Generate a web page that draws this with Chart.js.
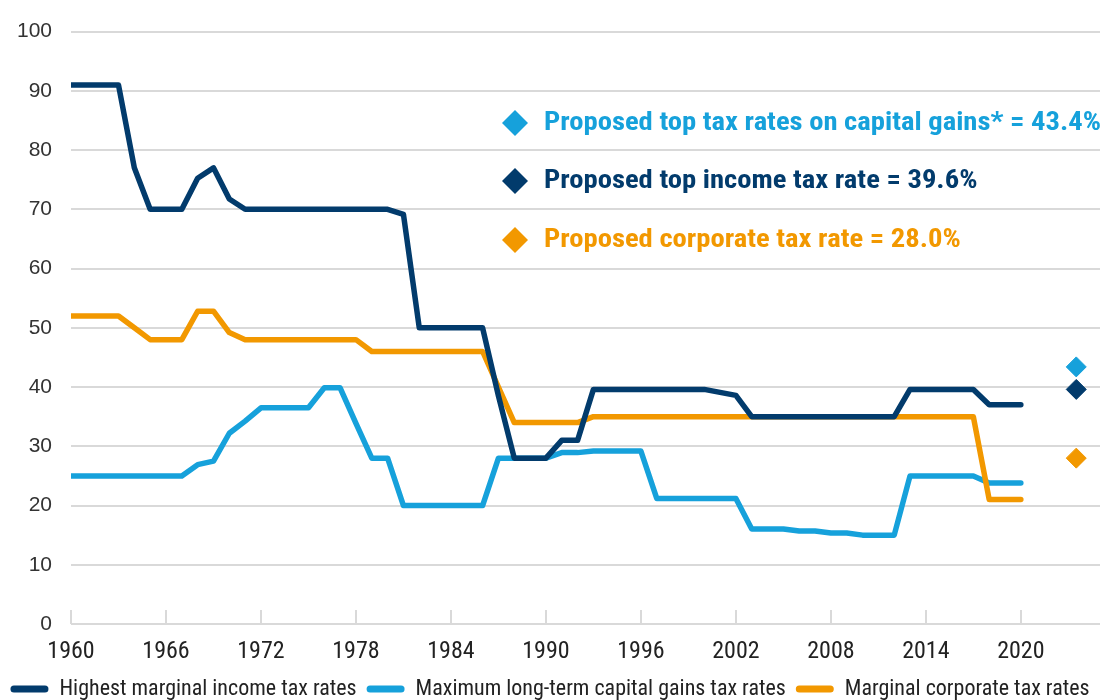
<!DOCTYPE html>
<html>
<head>
<meta charset="utf-8">
<script src="https://cdn.jsdelivr.net/npm/chart.js@4.4.1/dist/chart.umd.min.js"></script>
<style>
  html, body { margin: 0; padding: 0; background: #fff; }
</style>
</head>
<body>
<canvas id="grafico-Impuestos" width="1104" height="700"></canvas>
<script>
// Años y tasas (%)
const years = [1960, 1961, 1962, 1963, 1964, 1965, 1966, 1967, 1968, 1969,
  1970, 1971, 1972, 1973, 1974, 1975, 1976, 1977, 1978, 1979,
  1980, 1981, 1982, 1983, 1984, 1985, 1986, 1987, 1988, 1989,
  1990, 1991, 1992, 1993, 1994, 1995, 1996, 1997, 1998, 1999,
  2000, 2001, 2002, 2003, 2004, 2005, 2006, 2007, 2008, 2009,
  2010, 2011, 2012, 2013, 2014, 2015, 2016, 2017, 2018, 2019, 2020];

const incomeRates = [91, 91, 91, 91, 77, 70, 70, 70, 75.25, 77,
  71.75, 70, 70, 70, 70, 70, 70, 70, 70, 70,
  70, 69.13, 50, 50, 50, 50, 50, 38.5, 28, 28,
  28, 31, 31, 39.6, 39.6, 39.6, 39.6, 39.6, 39.6, 39.6,
  39.6, 39.1, 38.6, 35, 35, 35, 35, 35, 35, 35,
  35, 35, 35, 39.6, 39.6, 39.6, 39.6, 39.6, 37, 37, 37];

const capitalGainsRates = [25, 25, 25, 25, 25, 25, 25, 25, 26.9, 27.5,
  32.2, 34.25, 36.5, 36.5, 36.5, 36.5, 39.875, 39.875, 33.85, 28,
  28, 20, 20, 20, 20, 20, 20, 28, 28, 28,
  28, 28.93, 28.93, 29.19, 29.19, 29.19, 29.19, 21.19, 21.19, 21.19,
  21.19, 21.19, 21.19, 16.05, 16.05, 16.05, 15.7, 15.7, 15.35, 15.35,
  15, 15, 15, 25, 25, 25, 25, 25, 23.8, 23.8, 23.8];

const corporateRates = [52, 52, 52, 52, 50, 48, 48, 48, 52.8, 52.8,
  49.2, 48, 48, 48, 48, 48, 48, 48, 48, 46,
  46, 46, 46, 46, 46, 46, 46, 40, 34, 34,
  34, 34, 34, 35, 35, 35, 35, 35, 35, 35,
  35, 35, 35, 35, 35, 35, 35, 35, 35, 35,
  35, 35, 35, 35, 35, 35, 35, 35, 21, 21, 21];

// Propuestas
const proposedYear = 2023.5;
const proposedCapitalGains = 43.4;
const proposedIncome = 39.6;
const proposedCorporate = 28.0;

const xTicks = [1960, 1966, 1972, 1978, 1984, 1990, 1996, 2002, 2008, 2014, 2020];

const seriesNames = ["Highest marginal income tax rates", "Maximum long-term capital gains tax rates", "Marginal corporate tax rates"];
const notes = [
  "Proposed top tax rates on capital gains* = 43.4%",
  "Proposed top income tax rate = 39.6%",
  "Proposed corporate tax rate = 28.0%"
];

const NAVY = "#023b6c";
const BLUE = "#16a1db";
const ORANGE = "#f29800";
const NARROW = '"Roboto Condensed", "DejaVu Sans Condensed", sans-serif';

function toPoints(values) {
  return values.map((v, i) => ({ x: years[i], y: v }));
}

function serie(label, values, color, order) {
  return {
    label: label,
    data: toPoints(values),
    borderColor: color,
    backgroundColor: color,
    borderWidth: 5.5,
    borderCapStyle: "round",
    borderJoinStyle: "round",
    pointRadius: 0,
    tension: 0,
    order: order
  };
}

function diamond(value, color) {
  return {
    label: "",
    data: [{ x: proposedYear, y: value }],
    borderColor: color,
    backgroundColor: color,
    pointStyle: "rectRot",
    pointRadius: 10,
    pointHoverRadius: 10,
    showLine: false,
    order: 0
  };
}

// Marcas del eje x y notas de texto
const extras = {
  id: "extras",
  beforeDatasetsDraw(chart) {
    const { ctx, chartArea, scales: { x } } = chart;
    ctx.save();
    ctx.strokeStyle = "#d9d9d9";
    ctx.lineWidth = 2;
    x.ticks.forEach(t => {
      const px = Math.round(x.getPixelForValue(t.value));
      ctx.beginPath();
      ctx.moveTo(px, chartArea.bottom);
      ctx.lineTo(px, chartArea.bottom - 14);
      ctx.stroke();
    });
    ctx.restore();
  },
  afterDraw(chart) {
    const { ctx, chartArea } = chart;
    const colors = [BLUE, NAVY, ORANGE];
    const rows = [123, 181, 240];
    ctx.save();
    ctx.font = "bold 25px " + NARROW;
    ctx.textBaseline = "middle";
    // la fuente original es algo más ancha: estirar en horizontal
    const sx = 557 / ctx.measureText(notes[0]).width;
    notes.forEach((txt, i) => {
      const cx = chartArea.left + 444;
      const cy = rows[i];
      ctx.fillStyle = colors[i];
      ctx.beginPath();
      ctx.moveTo(cx, cy - 13);
      ctx.lineTo(cx + 13, cy);
      ctx.lineTo(cx, cy + 13);
      ctx.lineTo(cx - 13, cy);
      ctx.closePath();
      ctx.fill();
      ctx.save();
      ctx.translate(cx + 29, cy + 1);
      ctx.scale(sx, 1);
      ctx.fillText(txt, 0, 0);
      ctx.restore();
    });
    ctx.restore();
  }
};

new Chart(document.getElementById("grafico-Impuestos").getContext("2d"), {
  type: "line",
  data: {
    datasets: [
      serie(seriesNames[0], incomeRates, NAVY, 1),
      serie(seriesNames[1], capitalGainsRates, BLUE, 3),
      serie(seriesNames[2], corporateRates, ORANGE, 2),
      diamond(proposedCapitalGains, BLUE),
      diamond(proposedIncome, NAVY),
      diamond(proposedCorporate, ORANGE)
    ]
  },
  options: {
    responsive: false,
    animation: false,
    layout: { autoPadding: false, padding: { top: 30, right: 4, left: 0, bottom: -10 } },
    plugins: {
      tooltip: { enabled: false },
      legend: {
        position: "bottom",
        labels: {
          color: "#222",
          font: { family: NARROW, size: 22 },
          boxWidth: 38,
          boxHeight: 7,
          padding: 10,
          useBorderRadius: true,
          borderRadius: 3.5,
          generateLabels: (chart) => chart.data.datasets.slice(0, 3).map((ds, i) => ({
            text: ds.label,
            fillStyle: ds.borderColor,
            strokeStyle: ds.borderColor,
            lineWidth: 0,
            borderRadius: 3.5,
            hidden: false,
            datasetIndex: i,
            fontColor: "#222"
          }))
        }
      }
    },
    scales: {
      x: {
        type: "linear",
        min: 1960,
        max: 2025,
        grid: { display: false, drawTicks: false },
        border: { display: false },
        afterBuildTicks: (scale) => { scale.ticks = xTicks.map(v => ({ value: v })); },
        ticks: {
          autoSkip: false,
          maxRotation: 0,
          padding: 14,
          color: "#222",
          font: { family: NARROW, size: 24 },
          callback: (v) => String(v)
        },
        afterFit: (scale) => { scale.height = 44; scale.paddingRight = 0; }
      },
      y: {
        min: 0,
        max: 100,
        grid: { color: "#d9d9d9", lineWidth: 2, drawTicks: false },
        border: { display: false },
        ticks: {
          stepSize: 10,
          padding: 19,
          color: "#333",
          font: { family: '"Liberation Sans", Arial, sans-serif', size: 21 }
        },
        afterFit: (scale) => { scale.width = 71; }
      }
    }
  },
  plugins: [extras]
});
</script>
</body>
</html>
